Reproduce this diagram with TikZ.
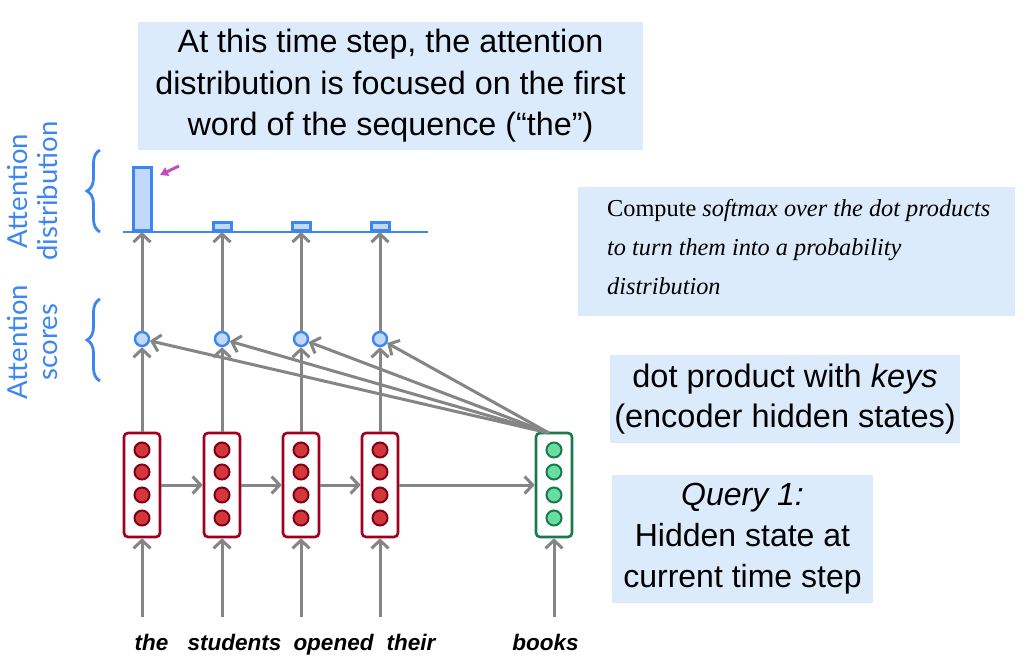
\documentclass[tikz,border=0pt]{standalone}
\usepackage{fontspec}
\setmainfont{Liberation Sans}
\newfontfamily\serifit{Liberation Serif}
\newfontfamily\labelfont{Lato}
\usetikzlibrary{arrows.meta,decorations.pathreplacing}
\definecolor{boxblue}{HTML}{DCEBFB}
\definecolor{lblblue}{HTML}{3C86F0}
\definecolor{barfill}{HTML}{C2D9FB}
\definecolor{grayline}{HTML}{858585}
\definecolor{encred}{HTML}{A0001E}
\definecolor{encdot}{HTML}{D2383A}
\definecolor{decgreen}{HTML}{1A7A4C}
\definecolor{decdot}{HTML}{68DDA2}
\definecolor{magarrow}{HTML}{C050C0}
\begin{document}
\begin{tikzpicture}[x=1pt,y=-1pt,
  infobox/.style={fill=boxblue, inner sep=0pt, align=center},
  conn/.style={draw=grayline, line width=3pt, -{Straight Barb[length=8pt,width=17pt,line width=3pt]}},
  rnnbox/.style={draw=encred, line width=2.6pt, rounded corners=4pt, minimum width=36pt, minimum height=104pt, inner sep=0pt, fill=white},
  decbox/.style={rnnbox, draw=decgreen},
  encunit/.style={circle, draw=encred!80!black, line width=2pt, fill=encdot, minimum size=15pt, inner sep=0pt},
  decunit/.style={encunit, draw=decgreen, fill=decdot},
  score/.style={circle, draw=lblblue, line width=2.4pt, fill=barfill, minimum size=14pt, inner sep=0pt},
  bar/.style={draw=lblblue, line width=3pt, fill=barfill, inner sep=0pt, minimum width=18pt, anchor=south},
  word/.style={font=\fontsize{22.5}{25}\selectfont\bfseries\itshape, anchor=base},
  sidelbl/.style={text=lblblue, font=\labelfont\fontsize{27.5}{30}\selectfont, rotate=90, align=center}
]
\useasboundingbox (0,0) rectangle (1028,664);

% info boxes
\node[infobox, minimum width=505pt, minimum height=128pt, font=\fontsize{32.3}{41.5}\selectfont] (top) at (390.5,86)
  {At this time step, the attention\\distribution is focused on the first\\word of the sequence (“the”)};
\node[infobox, minimum width=437pt, minimum height=129pt] (soft) at (796.5,251.5) {};
\node[align=left, anchor=west, inner sep=0pt, font=\serifit\fontsize{24.3}{39}\selectfont] (softtxt) at (607,247)
  {Compute \textit{softmax over the dot products}\\\textit{to turn them into a probability}\\\textit{distribution}};
\node[infobox, minimum width=350pt, minimum height=88pt, font=\fontsize{32.5}{40}\selectfont] (dot) at (785,399)
  {dot product with \textit{keys}\\(encoder hidden states)};
\node[infobox, minimum width=261pt, minimum height=128pt, font=\fontsize{32}{41}\selectfont] (query) at (742.5,539)
  {\textit{Query 1:}\\Hidden state at\\current time step};

% side labels
\node[sidelbl] (lbldist) at (33,191) {Attention\\distribution};
\node[sidelbl] (lblscore) at (33,342) {Attention\\scores};
\coordinate (br1a) at (100,232); \coordinate (br1b) at (100,150);
\coordinate (br2a) at (100,381); \coordinate (br2b) at (100,299);
\draw[lblblue, line width=2.8pt, decorate, decoration={brace, amplitude=13pt}] (br1a) -- (br1b);
\draw[lblblue, line width=2.8pt, decorate, decoration={brace, amplitude=13pt}] (br2a) -- (br2b);

% encoder / decoder boxes
\foreach \n/\x in {1/142,2/222,3/301,4/380}{
  \node[rnnbox] (h\n) at (\x,485) {};
  \foreach \k/\y in {1/450,2/472,3/495,4/518}
    \node[encunit] (h\n u\k) at (\x,\y) {};
  \node[score] (s\n) at (\x,339) {};
}
\node[decbox] (q) at (554,485) {};
\foreach \k/\y in {1/450,2/472,3/495,4/518}
  \node[decunit] (qu\k) at (554,\y) {};

% bars
\coordinate (axl) at (123,232); \coordinate (axr) at (428,232);
\node[bar, minimum height=63pt] (b1) at (142,232) {};
\node[bar, minimum height=8pt] (b2) at (222,232) {};
\node[bar, minimum height=8pt] (b3) at (301,232) {};
\node[bar, minimum height=8pt] (b4) at (380,232) {};
\draw[lblblue, line width=2.6pt] (axl) -- (axr);
\coordinate (ma) at (179,166); \coordinate (mb) at (160,175);
\draw[magarrow, line width=3pt, -{Triangle[length=8pt,width=9pt]}] (ma) -- (mb);

% words and input arrows
\foreach \n/\x/\w/\wx in {1/142/the/151.5,2/222/students/234.5,3/301/opened/333.5,4/380/their/411}{
  \coordinate (in\n) at (\x,617);
  \node[word] (w\n) at (\wx,650) {\w};
  \draw[conn] (in\n) -- (h\n.south);
  \draw[conn] (h\n.north) -- (s\n);
  \draw[conn] (s\n) -- (b\n.south);
}
\coordinate (inq) at (554,617);
\node[word] (wq) at (545.5,650) {books};
\draw[conn] (inq) -- (q.south);

% recurrent arrows
\draw[conn] (h1.east) -- (h2.west);
\draw[conn] (h2.east) -- (h3.west);
\draw[conn] (h3.east) -- (h4.west);
\draw[conn] (h4.east) -- (q.west);

% dot product arrows
\coordinate (qt) at (549,433);
\foreach \n in {1,2,3,4}
  \draw[conn] (qt) -- (s\n);
\end{tikzpicture}
\end{document}
